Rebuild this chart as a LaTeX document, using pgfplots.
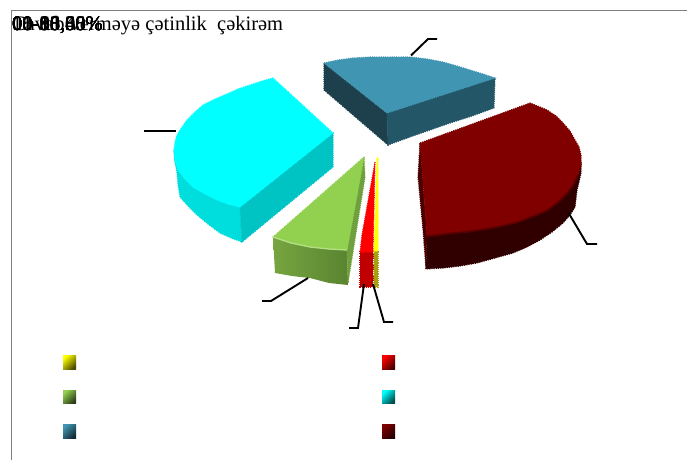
\documentclass[border=0pt]{standalone}
\usepackage{pgfplots}
\usepackage{fontspec}
\setmainfont{Liberation Serif}
\pgfplotsset{compat=1.18}
\definecolor{dr}{HTML}{800000}
\definecolor{drf}{HTML}{300000}
\definecolor{drl}{HTML}{4A0000}
\definecolor{cy}{HTML}{00FFFF}
\definecolor{cyr}{HTML}{00C4C4}
\definecolor{cyf}{HTML}{00DDDD}
\definecolor{bl}{HTML}{4096B2}
\definecolor{blr}{HTML}{235666}
\definecolor{bll}{HTML}{1D404C}
\definecolor{gr}{HTML}{92D050}
\definecolor{grf}{HTML}{76A540}
\definecolor{grd}{HTML}{5A8430}
\definecolor{grr}{HTML}{70A03E}
\definecolor{rdf}{HTML}{C00000}
\definecolor{yl}{HTML}{FFFF00}
\definecolor{ylf}{HTML}{A8A010}
\definecolor{frame}{HTML}{808080}
\tikzset{
  face/.style={fill=#1,draw=#1,line width=1.1pt,dash pattern=on 1.1pt off 1.1pt},
  key/.style 2 args={top color=#1,bottom color=#2,shading angle=45,draw=none},
  lbl/.style={anchor=base west,inner sep=0pt,font=\fontsize{20.5}{24}\selectfont}
}
\begin{document}
\begin{tikzpicture}
\begin{axis}[width=687pt,height=460pt,scale only axis,axis lines=none,
  xmin=0,xmax=687,ymin=0,ymax=460,y dir=reverse,clip=true]
% keeps the full canvas in the picture
\addplot[draw=none] coordinates {(0,0)(687,460)};
% frame
\addplot[draw=frame,line width=1.7pt] coordinates {(11.5,460)(11.5,10.5)(687,10.5)};
% blue slice
\addplot[face=bll] coordinates {(324,63)(387,113)(388,145)(324,90)} --cycle;
\addplot[face=blr] coordinates {(387,113)(495,78)(494,108)(472,116)(450,123)(430,130)(410,137)(388,145)} --cycle;
\addplot[face=bl] coordinates {(324,63)(338,60)(353,58)(370,57)(387,57)(410,57)(427,59)(443,62)(457,66)(470,70)(483,74)(495,78)(387,113)} --cycle;
% cyan slice
\addplot[face=cyf] coordinates {(174,150)(175,162)(177,173)(178,185)(180,197)(188,206)(197,215)(208,224)(220,233)(231,238)(242,242)(240,207)(228,204)(217,200)(205,194)(193,187)(185,179)(178,170)(175,160)} --cycle;
\addplot[face=cyr] coordinates {(240,207)(333,133)(333,167)(242,242)} --cycle;
\addplot[face=cy] coordinates {(273,78)(333,133)(240,207)(228,204)(217,200)(205,194)(193,187)(185,179)(178,170)(175,160)(174,150)(175,142)(177,135)(182,127)(187,120)(195,112)(203,105)(215,99)(227,94)(238,89)(250,85)(262,81)} --cycle;
% dark red slice
\addplot[face=drl] coordinates {(420,143)(427,236)(426,269)(423,230)(418,177)} --cycle;
\addplot[face=drf] coordinates {(427,236)(450,233)(466,231.5)(483,229)(500,226)(517,222)(533,216)(547,210)(558,202)(567,193)(573,185)(578,175)(581,165)(581,173)(579,182)(577,190)(575,207)(570,215)(563,223)(552,232)(540,240)(527,247)(513,253)(495,258)(477,263)(460,266)(443,268)(426,269)} --cycle;
\addplot[face=dr] coordinates {(420,143)(530,103)(540,107)(547,110)(556,116)(563,123)(570,131)(575,140)(579,147)(581,155)(581,165)(578,175)(573,185)(567,193)(558,202)(547,210)(533,216)(517,222)(500,226)(483,229)(466,231.5)(450,233)(438,235)(427,236)} --cycle;
\addplot[draw=drf!50!dr,line width=1.8pt] coordinates {(427,236.5)(450,233.5)(466,232)(483,229.5)(500,226.5)(517,222.5)(533,216.5)(547,210.5)(558,202.5)(567,193.5)(573,185.5)(578,175.5)};
% green slice
\addplot[left color=grf,right color=grd,draw=none] coordinates {(273,237)(291,243)(310,247)(329,249)(347,250)(348,285)(329,283)(310,278)(292,276)(275,273)} --cycle;
\addplot[face=grr] coordinates {(364,157)(365,177)(348,283)(347,250)} --cycle;
\addplot[face=gr] coordinates {(364,157)(347,250)(329,249)(310,247)(291,243)(273,237)} --cycle;
\addplot[draw=gr!70!white,line width=1.3pt] coordinates {(273,237)(291,243)(310,247)(329,249)(347,250)};
% red slice
\addplot[face=rdf] coordinates {(360,251)(373,251)(373,287)(360,287)} --cycle;
\addplot[face=red] coordinates {(375,162)(373,252)(360,252)(362,235)} --cycle;
% yellow slice
\addplot[face=ylf] coordinates {(374,251)(378,251)(378,287)(374,287)} --cycle;
\addplot[face=yl] coordinates {(377,158)(378,158)(378,251)(374,251)} --cycle;
% leader lines
\addplot[black,line width=1.9pt] coordinates {(411,55.5)(428,39)(437,39)};
\addplot[black,line width=1.9pt] coordinates {(176,131)(144,131)};
\addplot[black,line width=1.9pt] coordinates {(568,212)(587,244)(597,244)};
\addplot[black,line width=1.9pt] coordinates {(308,278)(271,301)(262,301)};
\addplot[black,line width=1.9pt] coordinates {(364,284)(358,328)(349,328)};
\addplot[black,line width=1.9pt] coordinates {(373,284)(384,322)(393,322)};
% legend keys
\addplot[key={yl}{black!70!yl}] coordinates {(63,355)(76,355)(76,369)(63,369)} --cycle;
\addplot[key={red}{black!70!red}] coordinates {(382,355)(395,355)(395,369)(382,369)} --cycle;
\addplot[key={gr}{black!70!gr}] coordinates {(63,390)(76,390)(76,403)(63,403)} --cycle;
\addplot[key={cy}{black!70!cy}] coordinates {(382,390)(395,390)(395,403)(382,403)} --cycle;
\addplot[key={bl}{black!70!bl}] coordinates {(63,424)(76,424)(76,438)(63,438)} --cycle;
\addplot[key={dr}{black!70!dr}] coordinates {(382,424)(395,424)(395,438)(382,438)} --cycle;
% overlapping text
\node[lbl] at (axis cs:12,30.5) {Cavab verməyə çətinlik\ \ çəkirəm};
\node[lbl] at (axis cs:12,30.5) {00-10,00\%};
\node[lbl] at (axis cs:12,30.5) {00-18,86\%};
\node[lbl] at (axis cs:12,30.5) {00-36,00\%};
\node[lbl] at (axis cs:12,30.5) {01-08,80\%};
\node[lbl] at (axis cs:12,30.5) {01-30,30\%};
\node[lbl] at (axis cs:12,30.5) {08-66,65\%};
\node[lbl] at (axis cs:12,30.5) {10-85,50\%};
\node[lbl] at (axis cs:12,30.5) {00-93,48\%};
\end{axis}
\end{tikzpicture}
\end{document}
